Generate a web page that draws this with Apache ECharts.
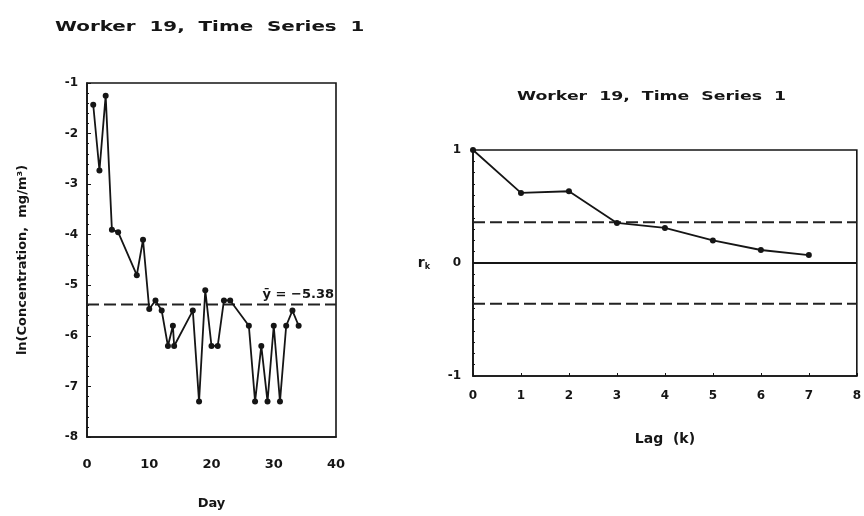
<!DOCTYPE html>
<html>
<head>
<meta charset="utf-8">
<script src="https://cdn.jsdelivr.net/npm/echarts@6/dist/echarts.min.js"></script>
<style>
  html, body { margin: 0; padding: 0; background: #ffffff; }
  #chart { width: 864px; height: 516px; }
</style>
</head>
<body>
<div id="chart"></div>
<script>
// Worker 19, time series 1: daily log-concentrations and their autocorrelation
const titleText = 'Worker  19,  Time  Series  1';

// Sampling day and ln(concentration, mg/m³)
const days = [1, 2, 3, 4, 5, 8, 9, 10, 11, 12, 13, 13.8, 14, 17, 18, 19, 20, 21, 22, 23, 26, 27, 28, 29, 30, 31, 32, 33, 34];
const lnConc = [-1.43, -2.73, -1.25, -3.9, -3.95, -4.8, -4.1, -5.47, -5.3, -5.5, -6.2, -5.8, -6.2, -5.5, -7.3, -5.1, -6.2, -6.2, -5.3, -5.3, -5.8, -7.3, -6.2, -7.3, -5.8, -7.3, -5.8, -5.5, -5.8];
const meanLn = -5.38;

// Sample autocorrelation r_k by lag k, with approximate significance bounds
const lags = [0, 1, 2, 3, 4, 5, 6, 7];
const acf = [1.0, 0.62, 0.635, 0.355, 0.31, 0.2, 0.115, 0.07];
const acfBound = 0.36;

// Axis ticks
const dayTicks = { min: 0, max: 40, step: 10 };
const lnTicks = { min: -8, max: -1, step: 1 };
const lagTicks = { min: 0, max: 8, step: 1 };
const rTicks = { min: -1, max: 1, step: 1 };

const INK = '#151515';
const FONT = 'DejaVu Sans';
const labelStyle = { color: INK, fontFamily: FONT, fontWeight: 'bold', fontSize: 12 };
const nameStyle = { color: INK, fontFamily: FONT, fontWeight: 'bold', fontSize: 13 };
const dashStyle = { color: '#222', width: 2, type: [12, 5] };

function frameAxis(extra) {
  return Object.assign({
    axisLine: { show: true, onZero: false, lineStyle: { color: INK, width: 1.6 } },
    axisTick: { show: false },
    splitLine: { show: false },
    axisLabel: labelStyle,
    nameTextStyle: nameStyle
  }, extra);
}

const chart = echarts.init(document.getElementById('chart'), null, { renderer: 'canvas' });

chart.setOption({
  backgroundColor: '#ffffff',
  animation: false,
  graphic: [
    {
      type: 'text', left: 55, top: 20, scaleX: 1.42,
      style: { text: titleText, fill: INK, font: 'bold 14px "DejaVu Sans"' }
    },
    {
      type: 'text', left: 517, top: 90, scaleX: 1.33,
      style: { text: titleText, fill: INK, font: 'bold 13px "DejaVu Sans"' }
    }
  ],
  grid: [
    { left: 87, top: 83, width: 249, height: 354, show: true, borderColor: INK, borderWidth: 1.6, backgroundColor: 'transparent' },
    { left: 473, top: 150, width: 384, height: 226, show: true, borderColor: INK, borderWidth: 1.6, backgroundColor: 'transparent' }
  ],
  xAxis: [
    frameAxis({
      gridIndex: 0, type: 'value', min: dayTicks.min, max: dayTicks.max, interval: dayTicks.step,
      name: 'Day', nameLocation: 'middle', nameGap: 60,
      axisLabel: Object.assign({}, labelStyle, { margin: 21, fontSize: 13 })
    }),
    frameAxis({
      gridIndex: 1, type: 'value', min: lagTicks.min, max: lagTicks.max, interval: lagTicks.step,
      name: 'Lag  (k)', nameLocation: 'middle', nameGap: 56,
      nameTextStyle: Object.assign({}, nameStyle, { fontSize: 14 }),
      axisTick: { show: true, inside: true, length: 3, lineStyle: { color: INK } },
      axisLabel: Object.assign({}, labelStyle, { margin: 14 })
    })
  ],
  yAxis: [
    frameAxis({
      gridIndex: 0, type: 'value', min: lnTicks.min, max: lnTicks.max, interval: lnTicks.step,
      name: 'ln(Concentration,  mg/m³)', nameLocation: 'middle', nameGap: 58,
      axisTick: { show: true, inside: true, length: 4, lineStyle: { color: INK } },
      minorTick: { show: true, splitNumber: 5, length: 2, lineStyle: { color: INK } },
      axisLabel: Object.assign({}, labelStyle, { margin: 9 })
    }),
    frameAxis({
      gridIndex: 1, type: 'value', min: rTicks.min, max: rTicks.max, interval: rTicks.step,
      name: '{r|r}{k|k}', nameLocation: 'middle', nameRotate: 0, nameGap: 43,
      nameTextStyle: {
        rich: {
          r: { color: INK, fontFamily: FONT, fontWeight: 'bold', fontSize: 14 },
          k: { color: INK, fontFamily: FONT, fontWeight: 'bold', fontSize: 8, padding: [8, 0, 0, 0] }
        }
      },
      axisTick: { show: true, inside: true, length: 3, lineStyle: { color: INK } },
      minorTick: { show: true, splitNumber: 10, length: 2, lineStyle: { color: INK } },
      axisLabel: Object.assign({}, labelStyle, { margin: 12 })
    })
  ],
  series: [
    {
      name: 'ln concentration', type: 'line', xAxisIndex: 0, yAxisIndex: 0,
      data: days.map((d, i) => [d, lnConc[i]]),
      symbol: 'circle', symbolSize: 6,
      itemStyle: { color: INK },
      lineStyle: { color: INK, width: 1.8 },
      z: 3
    },
    {
      name: 'mean', type: 'line', xAxisIndex: 0, yAxisIndex: 0,
      data: [
        [dayTicks.min, meanLn],
        {
          value: [dayTicks.max, meanLn],
          label: {
            show: true, position: 'top', align: 'right', distance: 3, offset: [-2, 0],
            formatter: 'ȳ = −' + Math.abs(meanLn).toFixed(2),
            color: INK, fontFamily: FONT, fontWeight: 'bold', fontSize: 13
          }
        }
      ],
      symbol: 'circle', symbolSize: 0.01, showSymbol: true,
      itemStyle: { color: 'rgba(0,0,0,0)' },
      lineStyle: dashStyle,
      z: 2
    },
    {
      name: 'acf', type: 'line', xAxisIndex: 1, yAxisIndex: 1,
      data: lags.map((k, i) => [k, acf[i]]),
      symbol: 'circle', symbolSize: 6,
      itemStyle: { color: INK },
      lineStyle: { color: INK, width: 1.8 },
      z: 3
    },
    {
      name: 'zero', type: 'line', xAxisIndex: 1, yAxisIndex: 1,
      data: [[lagTicks.min, 0], [lagTicks.max, 0]],
      symbol: 'none', lineStyle: { color: INK, width: 1.8 }, z: 2
    },
    {
      name: 'upper bound', type: 'line', xAxisIndex: 1, yAxisIndex: 1,
      data: [[lagTicks.min, acfBound], [lagTicks.max, acfBound]],
      symbol: 'none', lineStyle: dashStyle, z: 2
    },
    {
      name: 'lower bound', type: 'line', xAxisIndex: 1, yAxisIndex: 1,
      data: [[lagTicks.min, -acfBound], [lagTicks.max, -acfBound]],
      symbol: 'none', lineStyle: dashStyle, z: 2
    }
  ]
});
</script>
</body>
</html>
